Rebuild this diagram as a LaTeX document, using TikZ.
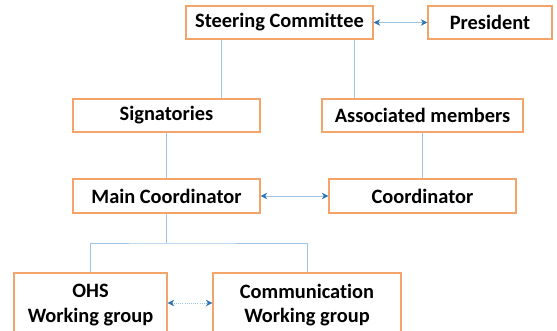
\documentclass[tikz,border=0pt]{standalone}
\usepackage{fontspec}
\setmainfont{Carlito}[Ligatures=NoCommon]
\usetikzlibrary{arrows.meta}
\definecolor{BoxOrange}{HTML}{F4A46A}
\definecolor{LineBlue}{HTML}{9DC3E6}
\definecolor{TipBlue}{HTML}{2E75B6}

\begin{document}
\begin{tikzpicture}[x=0.75pt, y=-0.75pt,
    unit/.style={draw=BoxOrange, line width=0.9pt, fill=white, align=center,
      font=\fontsize{15.3}{18.5}\selectfont\bfseries, inner sep=0pt},
    link/.style={draw=LineBlue, line width=0.6pt},
    both/.style={link, {Stealth[length=5pt, width=5pt, color=TipBlue]}-{Stealth[length=5pt, width=5pt, color=TipBlue]}}]
  \useasboundingbox (0,0) rectangle (557,331);
  \clip (0,0) rectangle (557,331);

  % top row
  \node[unit, minimum width=140.25pt, minimum height=24.75pt] (steer) at (279.5,22.5) {Steering Committee};
  \node[unit, minimum width=93pt, minimum height=24.75pt] (pres) at (490,22.5) {President};

  % second row
  \node[unit, minimum width=140.25pt, minimum height=24.75pt] (sign) at (166.5,115.5) {Signatories};
  \node[unit, minimum width=150.75pt, minimum height=24.75pt] (assoc) at (422.5,115.5) {Associated members};

  % third row
  \node[unit, minimum width=140.25pt, minimum height=25.5pt] (mainc) at (166.5,196) {Main Coordinator};
  \node[unit, minimum width=140.25pt, minimum height=25.5pt] (coord) at (422.5,196) {Coordinator};

  % working groups
  \node[unit, minimum width=114.75pt, minimum height=48pt] (ohs) at (90.5,305) {OHS\\Working group};
  \node[unit, minimum width=141pt, minimum height=48pt] (comm) at (307,305) {Communication\\Working group};

  \coordinate (sx) at (221,0);
  \coordinate (ax) at (354,0);
  \coordinate (br) at (166.5,243);

  \draw[link] (steer.south -| sx) -- (sign.north -| sx);
  \draw[link] (steer.south -| ax) -- (assoc.north -| ax);
  \draw[link] (sign.south) -- (mainc.north);
  \draw[link] (assoc.south) -- (coord.north);
  \draw[link] (mainc.south) -- (br);
  \draw[link] (ohs.north) |- (br) -| (comm.north);

  \draw[both] (steer.east) -- (pres.west);
  \draw[both] (mainc.east) -- (coord.west);
  \draw[both, densely dotted] (ohs.east |- 0,303) -- (comm.west |- 0,303);
\end{tikzpicture}
\end{document}
